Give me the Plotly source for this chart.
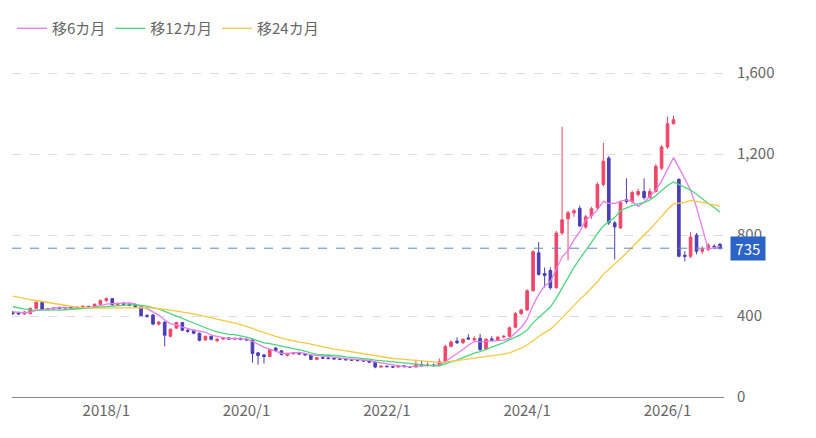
import pandas as pd
import plotly.graph_objects as go

# 月足 2016/9 - 2026/10
start_month = '2016-09-01'
opens = [418, 416, 410, 412, 438, 468, 432, 436, 440, 438, 442, 440, 444, 448, 442, 458,
         476, 486, 456, 462, 458, 452, 446, 402, 405, 360, 370, 300,
         340, 368, 330, 330, 315, 282, 300, 278, 286, 292, 286, 290,
         285, 282, 218, 208, 200, 242, 228, 206, 214, 218, 212, 206,
         186, 195, 192, 190, 188, 186, 184, 182, 180, 178, 172, 148,
         152, 150, 148, 154, 150, 148, 160, 155, 158, 155, 175, 250,
         276, 268, 292, 282, 290, 235, 287, 280, 296, 300, 345, 412,
         430, 525, 712, 610, 625, 540, 810, 880, 910, 932, 840, 895,
         935, 1050, 1180, 860, 835, 975, 965, 1000, 1015, 985, 1015, 1130,
         1235, 1350, 1075, 700, 695, 800, 720, 728, 745, 755]
highs = [425, 418, 425, 442, 472, 470, 440, 444, 446, 445, 448, 446, 452, 450, 462, 482,
         492, 488, 466, 470, 464, 456, 448, 410, 410, 375, 372, 338,
         372, 370, 335, 333, 318, 303, 302, 290, 295, 294, 292, 293,
         290, 285, 222, 212, 238, 246, 232, 218, 220, 222, 216, 208,
         198, 200, 210, 192, 192, 190, 188, 186, 184, 180, 174, 156,
         156, 154, 158, 156, 154, 185, 180, 172, 166, 190, 258, 280,
         295, 290, 310, 300, 312, 292, 300, 300, 305, 348, 420, 436,
         532, 725, 765, 640, 640, 820, 1335, 920, 930, 945, 900, 940,
         1060, 1255, 1190, 870, 970, 1080, 1020, 1030, 1080, 1030, 1150, 1245,
         1385, 1390, 1080, 720, 815, 810, 745, 760, 755, 760]
lows = [405, 405, 406, 408, 435, 430, 428, 430, 434, 432, 436, 434, 440, 438, 440, 455,
        470, 452, 450, 455, 448, 440, 398, 392, 355, 352, 250, 295,
        338, 325, 318, 310, 275, 278, 280, 272, 282, 282, 280, 280,
        278, 170, 160, 165, 196, 226, 205, 200, 208, 208, 204, 182,
        182, 188, 186, 186, 182, 180, 178, 175, 174, 168, 142, 144,
        146, 144, 146, 146, 145, 146, 150, 150, 150, 152, 172, 245,
        262, 262, 282, 276, 228, 232, 276, 276, 290, 296, 340, 405,
        425, 520, 600, 540, 530, 535, 800, 675, 890, 840, 830, 880,
        925, 1040, 850, 680, 830, 955, 955, 990, 975, 980, 1010, 1120,
        1225, 1345, 690, 670, 685, 705, 705, 720, 730, 728]
closes = [412, 410, 420, 438, 468, 432, 436, 440, 438, 442, 440, 444, 448, 442, 458, 476,
          486, 456, 462, 458, 452, 446, 402, 398, 360, 370, 305, 335,
          368, 330, 325, 315, 280, 300, 285, 286, 292, 286, 290, 285,
          282, 215, 205, 200, 234, 230, 210, 215, 218, 212, 208, 186,
          195, 192, 190, 188, 186, 184, 182, 180, 178, 172, 148, 152,
          150, 148, 154, 150, 148, 160, 155, 158, 155, 175, 250, 272,
          268, 285, 286, 288, 235, 285, 280, 296, 300, 342, 412, 430,
          525, 718, 605, 600, 540, 810, 875, 910, 920, 845, 890, 930,
          1050, 1165, 860, 840, 960, 965, 1010, 1015, 985, 1015, 1140, 1235,
          1350, 1370, 695, 695, 790, 720, 730, 750, 740, 735]
# 2014/9 - 2016/8 (表示範囲外、移動平均用)
prior_closes = [575, 570, 562, 558, 566, 560, 552, 548, 556, 550, 545, 540,
                505, 492, 484, 476, 470, 463, 440, 432, 425, 418, 415, 422]
current_price = 735
y_ticks = [0, 400, 800, 1200, 1600]
x_ticks = ['2018-01-01', '2020-01-01', '2022-01-01', '2024-01-01', '2026-01-01']
x_tick_labels = ['2018/1', '2020/1', '2022/1', '2024/1', '2026/1']

dates = pd.date_range(start_month, periods=len(closes), freq='MS')
all_dates = pd.date_range('2014-09-01', periods=len(prior_closes) + len(closes), freq='MS')
s = pd.Series(prior_closes + closes, index=all_dates)

fig = go.Figure()

fig.add_trace(go.Candlestick(x=dates, open=opens, high=highs, low=lows, close=closes,
                             increasing=dict(line=dict(color='#f0466a', width=1), fillcolor='#f0466a'),
                             decreasing=dict(line=dict(color='#4b3fb5', width=1), fillcolor='#4b3fb5'),
                             whiskerwidth=0, showlegend=False, hoverinfo='skip'))

# 移動平均
for n, color in [(6, '#e47ee8'), (12, '#4cd67e'), (24, '#f5c842')]:
    ma = s.rolling(n).mean().loc[dates]
    fig.add_trace(go.Scatter(x=dates, y=ma, mode='lines', name=f'移{n}カ月',
                             line=dict(color=color, width=1.3)))

fig.add_hline(y=current_price, line=dict(color='#5b86c9', width=1, dash='dash'))
fig.add_annotation(x=1, xref='paper', y=current_price, yref='y', xanchor='left',
                   text=f' {current_price} ', showarrow=False,
                   font=dict(color='white', size=15), bgcolor='#2b63c6', xshift=6)

fig.update_layout(
    width=816, height=438,
    margin=dict(l=4, r=100, t=47, b=49),
    plot_bgcolor='white', paper_bgcolor='white',
    font=dict(family='Noto Sans CJK JP', color='#666', size=15),
    legend=dict(orientation='h', x=0, xanchor='left', y=1.06, yanchor='bottom',
                font=dict(size=15, color='#666'), itemwidth=30),
    xaxis_rangeslider_visible=False,
)
fig.update_xaxes(range=['2016-08-28', '2026-10-22'], tickvals=x_ticks, ticktext=x_tick_labels,
                 showgrid=False, showline=True, linecolor='#888', ticks='', zeroline=False)
fig.update_yaxes(range=[0, 1640], side='right', tickvals=y_ticks, tickformat=',',
                 showgrid=True, gridcolor='#dddddd', griddash='dash', zeroline=False,
                 ticklabelstandoff=12)

fig.write_html('out.html')
